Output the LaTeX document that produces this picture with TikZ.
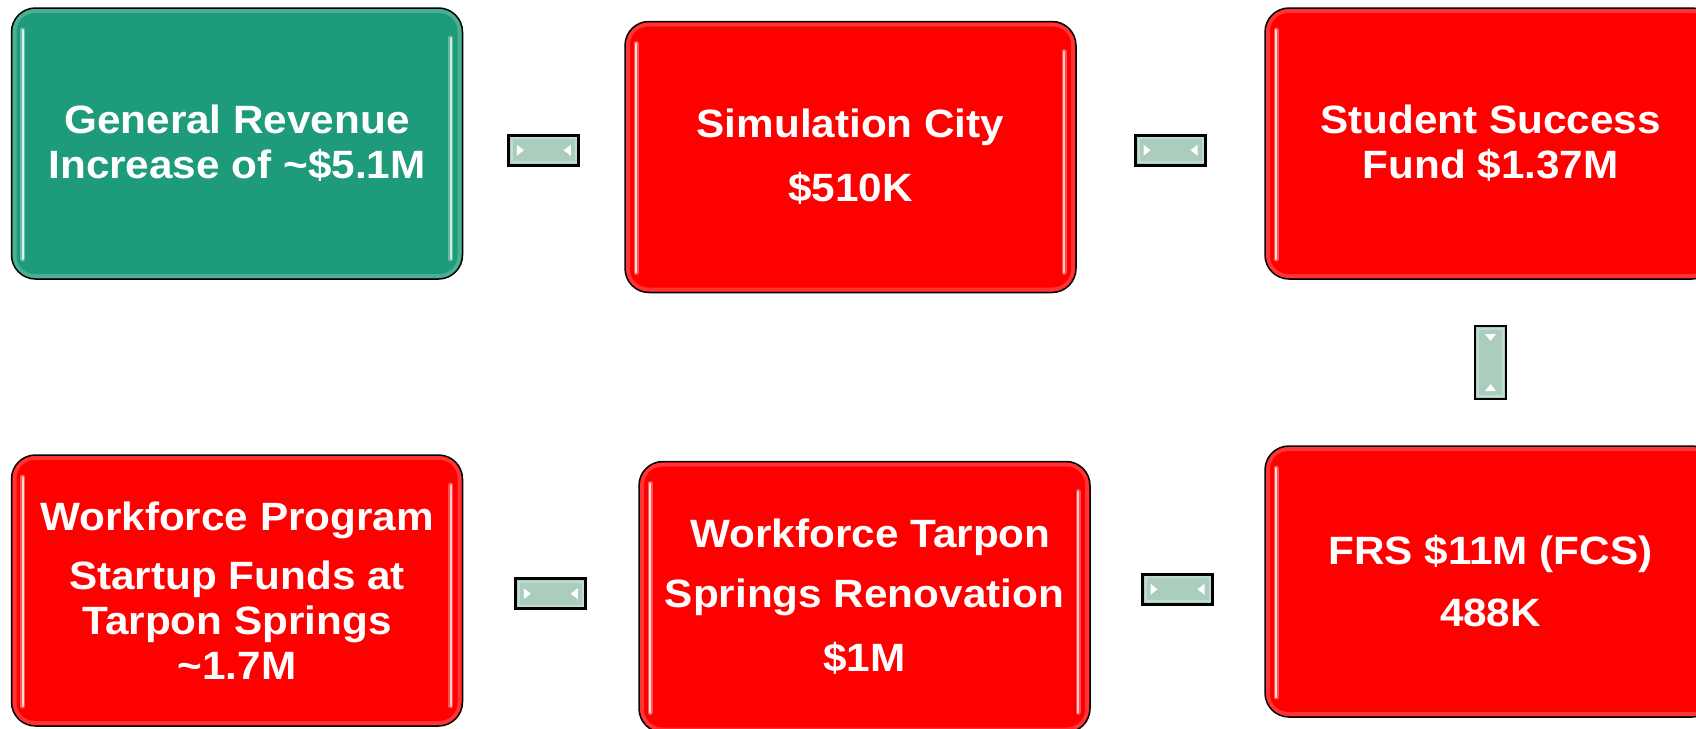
\documentclass[tikz,border=0pt]{standalone}
\usepackage{fontspec}
\setmainfont{Liberation Sans}[FakeStretch=1.07]
\usetikzlibrary{calc}
\definecolor{boxgreen}{RGB}{30,155,122}
\definecolor{boxred}{RGB}{255,0,0}
\definecolor{connfill}{RGB}{170,205,190}
\begin{document}
\begin{tikzpicture}[x=1pt,y=-1pt,
  gloss/.style={
    path picture={
      \draw[white,opacity=0.2,line width=4pt,rounded corners=20pt]
        ([xshift=3pt,yshift=-3pt]path picture bounding box.north west) rectangle
        ([xshift=-3pt,yshift=3pt]path picture bounding box.south east);
      \draw[white,opacity=0.35,line width=5pt,line cap=round]
        ([xshift=11pt,yshift=-22pt]path picture bounding box.north west) --
        ([xshift=11pt,yshift=20pt]path picture bounding box.south west);
      \draw[white,opacity=0.8,line width=2pt,line cap=round]
        ([xshift=11pt,yshift=-22pt]path picture bounding box.north west) --
        ([xshift=11pt,yshift=20pt]path picture bounding box.south west);
      \draw[white,opacity=0.3,line width=5pt,line cap=round]
        ([xshift=-12pt,yshift=-30pt]path picture bounding box.north east) --
        ([xshift=-12pt,yshift=20pt]path picture bounding box.south east);
      \draw[white,opacity=0.7,line width=2pt,line cap=round]
        ([xshift=-12pt,yshift=-30pt]path picture bounding box.north east) --
        ([xshift=-12pt,yshift=20pt]path picture bounding box.south east);
    }},
  fundbox/.style={draw=black,line width=1.5pt,rounded corners=24pt,
    minimum width=451pt,minimum height=271pt,inner sep=0pt,
    text=white,align=center,gloss,
    font=\bfseries\fontsize{39.5}{45}\selectfont},
  greenbox/.style={fundbox,fill=boxgreen},
  redbox/.style={fundbox,fill=boxred},
  connbase/.style={draw=black,line width=2.6pt,fill=connfill,inner sep=0pt},
  hconn/.style={connbase,minimum width=70pt,minimum height=30pt,
    path picture={
      \draw[white,opacity=0.3,line width=2pt]
        ([xshift=3pt,yshift=-3pt]path picture bounding box.north west) rectangle
        ([xshift=-3pt,yshift=3pt]path picture bounding box.south east);
      \fill[white] ([xshift=8pt,yshift=5.5pt]path picture bounding box.west) --
        ([xshift=15pt]path picture bounding box.west) --
        ([xshift=8pt,yshift=-5.5pt]path picture bounding box.west) -- cycle;
      \fill[white] ([xshift=-8pt,yshift=5.5pt]path picture bounding box.east) --
        ([xshift=-15pt]path picture bounding box.east) --
        ([xshift=-8pt,yshift=-5.5pt]path picture bounding box.east) -- cycle;
    }},
  vconn/.style={connbase,minimum width=31pt,minimum height=73pt,
    path picture={
      \draw[white,opacity=0.3,line width=2pt]
        ([xshift=3pt,yshift=-3pt]path picture bounding box.north west) rectangle
        ([xshift=-3pt,yshift=3pt]path picture bounding box.south east);
      \fill[white] ([xshift=-5.5pt,yshift=-8pt]path picture bounding box.north) --
        ([yshift=-15pt]path picture bounding box.north) --
        ([xshift=5.5pt,yshift=-8pt]path picture bounding box.north) -- cycle;
      \fill[white] ([xshift=-5.5pt,yshift=8pt]path picture bounding box.south) --
        ([yshift=15pt]path picture bounding box.south) --
        ([xshift=5.5pt,yshift=8pt]path picture bounding box.south) -- cycle;
    }}
]
\useasboundingbox (0,0) rectangle (1696,728);
\clip (0,0) rectangle (1696,728);

\node[greenbox] (b1) at (237,143.5) {General Revenue\\Increase of \textasciitilde\$5.1M};
\node[redbox] (b2) at (850.5,157) {Simulation City\\[19pt]\$510K};
\node[redbox] (b3) at (1490.5,143.5) {Student Success\\Fund \$1.37M};
\node[redbox] (b6) at (1490.5,581.5) {FRS \$11M (FCS)\\[17pt]488K};
\node[redbox] (b5) at (864.5,597) {\hspace*{12pt}Workforce Tarpon\\[15pt]Springs Renovation\\[19pt]\$1M};
\node[redbox] (b4) at (237,590.5) {Workforce Program\\[14pt]Startup Funds at\\Tarpon Springs\\\textasciitilde1.7M};

\node[hconn] (c1) at ($(b1.east)!0.5!(b2.west)$) {};
\node[hconn] (c2) at ($(b2.east)!0.5!(b3.west)$) {};
\node[vconn] (c3) at ($(b3.south)!0.5!(b6.north)$) {};
\node[hconn] (c5) at ($(b5.east)!0.5!(b6.west)$) {};
\node[hconn] (c4) at ($(b4.east)!0.5!(b5.west)$) {};
\end{tikzpicture}
\end{document}
